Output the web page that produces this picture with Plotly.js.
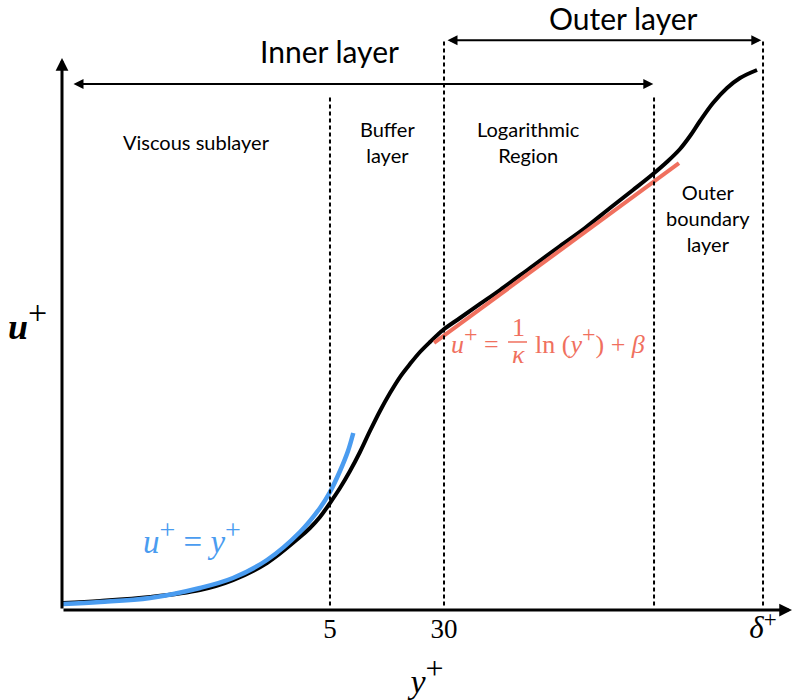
<!DOCTYPE html>
<html>
<head>
<meta charset="utf-8">
<script src="https://cdn.plot.ly/plotly-3.0.1.min.js"></script>
<style>html,body{margin:0;padding:0;background:#fff;}#chart{width:792px;height:700px;}</style>
</head>
<body>
<div id="chart"></div>
<script>
// ---- Data (schematic units) ----
// Full velocity profile u+ vs y+ (black)
const profileX = [0.14, 5.21, 12.05, 18.90, 23.42, 28.08, 32.60, 33.97, 35.34, 36.71, 38.08, 39.45, 40.82, 42.19, 43.56, 44.93, 46.30, 47.67, 49.04, 50.41, 52.19, 54.52, 57.26, 60.00, 64.11, 68.22, 71.64, 75.07, 78.22, 80.96, 83.01, 84.66, 86.03, 87.40, 89.18, 91.10, 92.88, 95.21];
const profileY = [1.27, 1.64, 2.36, 3.64, 5.45, 8.55, 13.27, 14.91, 16.91, 19.45, 22.18, 25.27, 28.73, 32.55, 36.18, 39.45, 42.36, 44.73, 46.91, 48.73, 50.91, 53.09, 55.64, 58.18, 62.18, 66.18, 69.45, 73.09, 76.36, 79.27, 81.64, 83.82, 86.18, 88.91, 92.18, 94.91, 96.73, 98.18];
// Viscous sublayer law u+ = y+ (blue)
const viscousX = [0.14, 5.21, 12.05, 18.90, 23.42, 28.08, 32.60, 35.34, 36.71, 38.08, 39.18, 39.90];
const viscousY = [1.09, 1.45, 2.18, 4.00, 5.82, 9.09, 14.18, 18.55, 21.45, 25.27, 28.91, 32.18];
// Log law (red)
const logLawX = [50.96, 84.52];
const logLawY = [48.55, 81.27];
// x-axis ticks
const tickPositions = [36.71, 52.33, 96.03];
const tickLabels = ['5', '30', '<span style="font-size:31px"><i>δ</i></span><sup><span style="font-size:23px">+</span></sup>'];
// Region boundaries (dotted lines) and their top ends
const boundaryX = [36.71, 52.33, 81.10, 96.03];
const boundaryTop = [93.3, 103.6, 93.3, 103.6];
// Region labels
const regionLabels = ['Viscous sublayer', 'Buffer<br>layer', 'Logarithmic<br>Region', 'Outer<br>boundary<br>layer'];
const regionX = [18.49, 44.52, 63.97, 88.49];
const regionY = [85.1, 85.1, 85.1, 71.27];

const BLACK = '#000000';
const BLUE = '#4A9CF0';
const RED = '#F0705E';
const SANS = 'Lato, "Open Sans", sans-serif';
const SERIF = '"Liberation Serif", "DejaVu Serif", serif';
const plus = (px) => '<sup><span style="font-size:' + px + 'px">+</span></sup>';

const traces = [
  {x: profileX, y: profileY, type: 'scatter', mode: 'lines',
   line: {color: BLACK, width: 4, shape: 'spline', smoothing: 1}, hoverinfo: 'skip'},
  {x: viscousX, y: viscousY, type: 'scatter', mode: 'lines',
   line: {color: BLUE, width: 4.5, shape: 'spline', smoothing: 1}, hoverinfo: 'skip'},
  {x: logLawX, y: logLawY, type: 'scatter', mode: 'lines',
   line: {color: RED, width: 4}, hoverinfo: 'skip'}
];

const shapes = boundaryX.map((bx, i) => ({
  type: 'line', xref: 'x', yref: 'y', x0: bx, x1: bx, y0: 0.8, y1: boundaryTop[i],
  line: {color: BLACK, width: 2, dash: '4px,3px'}
}));
// fraction bar of the log-law formula
shapes.push({type: 'line', xref: 'x', yref: 'y', x0: 61.1, x1: 63.7, y0: 48.73, y1: 48.73,
  line: {color: RED, width: 1.5}});

function arrow(x0, y0, x1, y1, w, size, both) {
  return {x: x1, y: y1, ax: x0, ay: y0, xref: 'x', yref: 'y', axref: 'x', ayref: 'y',
    text: '', showarrow: true, arrowhead: 2, arrowsize: size, arrowwidth: w, arrowcolor: BLACK,
    arrowside: both ? 'end+start' : 'end', startarrowhead: 2, startarrowsize: size, standoff: 0, startstandoff: 0};
}

const annotations = [
  arrow(0, 0, 0, 100.36, 3, 0.85, false),
  arrow(0, 0, 100, 0, 3, 0.85, false),
  arrow(1.37, 95.64, 81.0, 95.64, 2, 1, true),
  arrow(52.6, 103.6, 95.8, 103.6, 2, 1, true),
  {x: 36.58, y: 101.6, xref: 'x', yref: 'y', text: 'Inner layer', showarrow: false,
   font: {family: SANS, size: 30, color: BLACK}},
  {x: 76.85, y: 107.6, xref: 'x', yref: 'y', text: 'Outer layer', showarrow: false,
   font: {family: SANS, size: 30, color: BLACK}},
  {x: -0.0466, y: 52.7, xref: 'paper', yref: 'y', xanchor: 'center', text: '<b><i>u</i></b>' + plus(34), showarrow: false,
   font: {family: SERIF, size: 36, color: BLACK}},
  {x: 17.81, y: 13.3, xref: 'x', yref: 'y', text: '<i>u</i>' + plus(28) + ' = <i>y</i>' + plus(28), showarrow: false,
   font: {family: SERIF, size: 33, color: BLUE}},
  {x: 60.14, y: 49.1, xref: 'x', yref: 'y', xanchor: 'right', text: '<i>u</i>' + plus(24) + ' =', showarrow: false,
   font: {family: SERIF, size: 26, color: RED}},
  {x: 62.47, y: 51.4, xref: 'x', yref: 'y', text: '1', showarrow: false,
   font: {family: SERIF, size: 26, color: RED}},
  {x: 62.6, y: 46.5, xref: 'x', yref: 'y', text: '<i>κ</i>', showarrow: false,
   font: {family: SERIF, size: 26, color: RED}},
  {x: 64.52, y: 49.1, xref: 'x', yref: 'y', xanchor: 'left', text: 'ln (<i>y</i>' + plus(24) + ') + <i>β</i>', showarrow: false,
   font: {family: SERIF, size: 26, color: RED}}
];
regionLabels.forEach((t, i) => annotations.push({
  x: regionX[i], y: regionY[i], xref: 'x', yref: 'y', text: t, showarrow: false,
  font: {family: SANS, size: 20, color: BLACK}
}));

const layout = {
  width: 792, height: 700,
  margin: {l: 62, r: 0, t: 0, b: 90},
  paper_bgcolor: '#ffffff', plot_bgcolor: '#ffffff',
  showlegend: false,
  xaxis: {range: [0, 100], showgrid: false, zeroline: false, showline: false, ticks: '',
    tickvals: tickPositions, ticktext: tickLabels, automargin: false,
    tickfont: {family: SERIF, size: 27, color: BLACK},
    title: {text: '<i>y</i>' + plus(32), font: {family: SERIF, size: 34, color: BLACK}, standoff: 28}},
  yaxis: {range: [0, 110.91], showgrid: false, zeroline: false, showline: false, showticklabels: false,
    ticks: '', automargin: false},
  shapes: shapes,
  annotations: annotations
};

Plotly.newPlot('chart', traces, layout, {displayModeBar: false, staticPlot: true});
</script>
</body>
</html>
